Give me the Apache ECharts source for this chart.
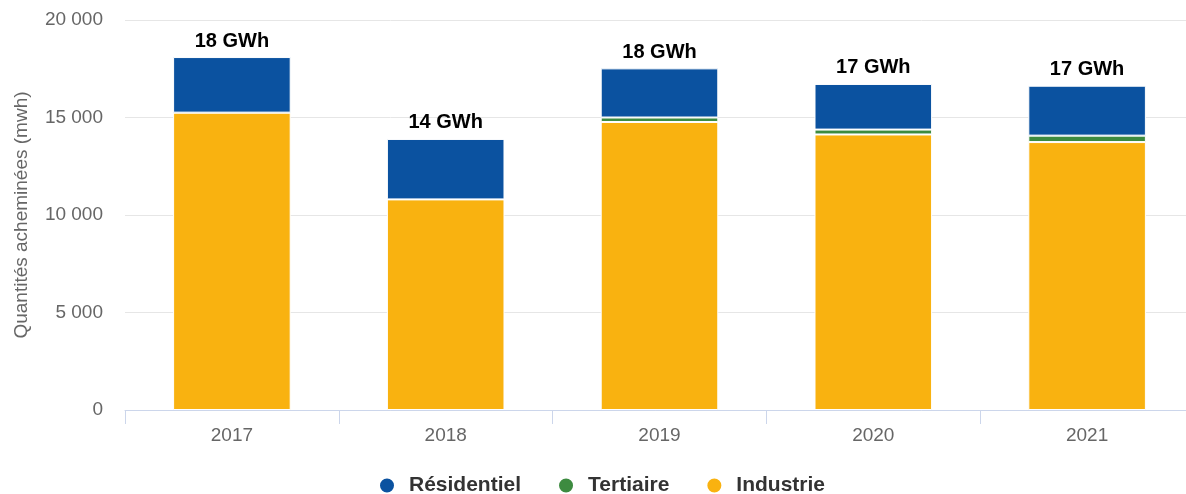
<!DOCTYPE html>
<html>
<head>
<meta charset="utf-8">
<script src="https://cdn.jsdelivr.net/npm/echarts@6/dist/echarts.min.js"></script>
<style>
  html, body { margin: 0; padding: 0; background: #fff; }
  #chart { width: 1186px; height: 494px; }
</style>
</head>
<body>
<div id="chart"></div>
<script>
// Données (MWh)
const years = ['2017', '2018', '2019', '2020', '2021'];
const industrie = [15250, 10800, 14770, 14130, 13740];
const tertiaire = [0, 0, 230, 250, 330];
const residentiel = [2850, 3100, 2520, 2340, 2560];

const COLORS = {
  residentiel: '#0B52A0',
  tertiaire: '#3D8B40',
  industrie: '#F9B210'
};

const FONT = '"Liberation Sans", Arial, Helvetica, sans-serif';

function fmtThousands(v) {
  return String(v).replace(/\B(?=(\d{3})+(?!\d))/g, ' ');
}

const totals = years.map((_, i) => industrie[i] + tertiaire[i] + residentiel[i]);

const chart = echarts.init(document.getElementById('chart'));

const barBase = {
  type: 'bar',
  stack: 'total',
  barWidth: '55%'
};

chart.setOption({
  animation: false,
  textStyle: { fontFamily: FONT },
  grid: { left: 125, right: -8, top: 20, bottom: 84, outerBoundsMode: 'none' },
  legend: {
    top: 470,
    left: 373,
    icon: 'circle',
    itemWidth: 34,
    itemHeight: 16,
    itemGap: 36,
    data: ['Résidentiel', 'Tertiaire', 'Industrie'],
    textStyle: { fontSize: 21, fontWeight: 'bold', color: '#333', fontFamily: FONT }
  },
  xAxis: {
    type: 'category',
    data: years,
    axisLine: { lineStyle: { color: '#CCD6EB' } },
    axisTick: { show: true, length: 14, lineStyle: { color: '#CCD6EB' } },
    axisLabel: { color: '#666', fontSize: 19, margin: 16 }
  },
  yAxis: {
    type: 'value',
    min: 0,
    max: 20000,
    interval: 5000,
    name: 'Quantités acheminées (mwh)',
    nameLocation: 'middle',
    nameGap: 94,
    nameTextStyle: { color: '#666', fontSize: 19 },
    axisLine: { show: false },
    axisTick: { show: false },
    splitLine: { lineStyle: { color: '#E6E6E6' } },
    axisLabel: { color: '#666', fontSize: 19, margin: 22, formatter: fmtThousands }
  },
  series: [
    Object.assign({}, barBase, {
      name: 'Industrie',
      data: industrie,
      itemStyle: { color: COLORS.industrie, borderColor: '#fff', borderWidth: 1 }
    }),
    Object.assign({}, barBase, {
      name: 'Tertiaire',
      data: tertiaire,
      itemStyle: { color: COLORS.tertiaire, borderColor: '#fff', borderWidth: 1 }
    }),
    Object.assign({}, barBase, {
      name: 'Résidentiel',
      data: residentiel,
      itemStyle: { color: COLORS.residentiel, borderColor: '#fff', borderWidth: 1 },
      label: {
        show: true,
        position: 'top',
        distance: 6,
        color: '#000',
        fontSize: 20,
        fontWeight: 'bold',
        formatter: p => Math.round(totals[p.dataIndex] / 1000) + ' GWh'
      }
    })
  ]
});
</script>
</body>
</html>
